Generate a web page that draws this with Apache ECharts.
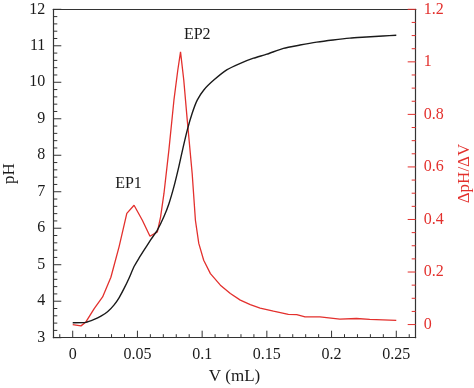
<!DOCTYPE html>
<html>
<head>
<meta charset="utf-8">
<script src="https://cdn.jsdelivr.net/npm/echarts@6/dist/echarts.min.js"></script>
<style>html,body{margin:0;padding:0;background:#fff}#c{width:474px;height:388px}</style>
</head>
<body>
<div id="c"></div>
<script>
// ---- data ----
const phV = [0, 0.0102, 0.0166, 0.0218, 0.0269, 0.032, 0.0359, 0.0397, 0.0435, 0.0474, 0.0512, 0.0551, 0.0602, 0.0654, 0.0705, 0.0744, 0.0782, 0.082, 0.0854, 0.0885, 0.0923, 0.0962, 0.1013, 0.109, 0.119, 0.1295, 0.1397, 0.15, 0.1628, 0.1756, 0.1885, 0.2012, 0.2141, 0.2269, 0.2397, 0.25];
const phVals = [3.41, 3.42, 3.50, 3.59, 3.71, 3.90, 4.10, 4.35, 4.63, 4.95, 5.18, 5.40, 5.68, 5.95, 6.32, 6.68, 7.14, 7.69, 8.23, 8.69, 9.15, 9.51, 9.79, 10.06, 10.34, 10.52, 10.66, 10.77, 10.93, 11.02, 11.10, 11.16, 11.21, 11.24, 11.27, 11.29];
const dV = [0, 0.0064, 0.0102, 0.0166, 0.0231, 0.0295, 0.0358, 0.0418, 0.0474, 0.0538, 0.0597, 0.0654, 0.0679, 0.0705, 0.0743, 0.0782, 0.0812, 0.0833, 0.0858, 0.0885, 0.0923, 0.0948, 0.0974, 0.1012, 0.1064, 0.1141, 0.1218, 0.1295, 0.1372, 0.1448, 0.1551, 0.1666, 0.1731, 0.1795, 0.191, 0.2064, 0.2192, 0.2295, 0.2397, 0.25];
const dVals = [0, -0.005, 0.01, 0.061, 0.105, 0.18, 0.296, 0.423, 0.454, 0.397, 0.336, 0.353, 0.41, 0.499, 0.664, 0.854, 0.969, 1.038, 0.931, 0.778, 0.575, 0.397, 0.309, 0.245, 0.194, 0.15, 0.118, 0.093, 0.076, 0.063, 0.051, 0.039, 0.038, 0.029, 0.029, 0.021, 0.023, 0.02, 0.018, 0.016];
const xTicks = [0, 0.05, 0.1, 0.15, 0.2, 0.25];
const leftTicks = [3, 4, 5, 6, 7, 8, 9, 10, 11, 12];
const rightTicks = [0, 0.2, 0.4, 0.6, 0.8, 1, 1.2];
const annotations = [
  { name: 'EP1', v: 0.0431, d: 0.537 },
  { name: 'EP2', v: 0.0962, d: 1.102 }
];

// ---- axis ranges ----
const X_MIN = -0.015, X_MAX = 0.265;
const L_MIN = 3, L_MAX = 12;
const R_MIN = -0.05, R_MAX = 1.2;

// ---- tick positions (major + minor) ----
const r3 = v => Math.round(v * 1000) / 1000;
const xTickData = [];
for (let i = -1; i <= 26; i++) { const v = r3(i * 0.01); xTickData.push([v, L_MIN, i % 5 === 0 ? 1 : 0]); }
const leftTickData = [];
for (let i = 0; i <= 45; i++) { const v = r3(L_MIN + i * 0.2); leftTickData.push([X_MIN, v, i % 5 === 0 ? 1 : 0]); }
const rightTickData = [];
for (let i = 0; i <= 24; i++) { const v = r3(i * 0.05); rightTickData.push([X_MAX, v, i % 4 === 0 ? 1 : 0]); }

// ---- chart ----
const FONT = 'Liberation Serif';
const BLACK = '#1a1a1a';
const AX = '#333333';
const RED = '#e3302d';

function tickSeries(name, yIdx, data, dir, major, minor, color) {
  return {
    name, type: 'custom', xAxisIndex: 0, yAxisIndex: yIdx, clip: false, silent: true, z: 5,
    data,
    renderItem: (params, api) => {
      const p = api.coord([api.value(0), api.value(1)]);
      const len = api.value(2) ? major : minor;
      const shape = dir === 'up'
        ? { x1: p[0], y1: p[1], x2: p[0], y2: p[1] - len }
        : { x1: p[0], y1: p[1], x2: p[0] + dir * len, y2: p[1] };
      return { type: 'line', shape, style: { stroke: color, lineWidth: 1 } };
    }
  };
}

const chart = echarts.init(document.getElementById('c'), null, { renderer: 'canvas' });
chart.setOption({
  animation: false,
  textStyle: { fontFamily: FONT },
  grid: {
    left: 53.3, right: 58.3, top: 9.3, bottom: 50.3, show: false,
    outerBounds: { left: -100, right: -100, top: -100, bottom: -100 }
  },
  xAxis: [
    {
      type: 'value', min: X_MIN, max: X_MAX, position: 'bottom',
      name: 'V (mL)', nameLocation: 'middle', nameGap: 28,
      nameTextStyle: { fontFamily: FONT, fontSize: 17, color: BLACK },
      axisLine: { show: true, onZero: false, lineStyle: { color: AX, width: 1.2 } },
      axisTick: { show: false },
      axisLabel: { show: true, customValues: xTicks, margin: 9, fontFamily: FONT, fontSize: 16, color: BLACK, formatter: v => String(v) },
      splitLine: { show: false }
    },
    {
      type: 'value', min: X_MIN, max: X_MAX, position: 'top', offset: 0,
      axisLine: { show: true, onZero: false, lineStyle: { color: AX, width: 1.2 } },
      axisTick: { show: false },
      axisLabel: { show: false },
      splitLine: { show: false }
    }
  ],
  yAxis: [
    {
      type: 'value', min: L_MIN, max: L_MAX, interval: 1, position: 'left',
      name: 'pH', nameLocation: 'middle', nameGap: 33, nameRotate: 90,
      nameTextStyle: { fontFamily: FONT, fontSize: 17, color: BLACK },
      axisLine: { show: true, onZero: false, lineStyle: { color: AX, width: 1.2 } },
      axisTick: { show: false },
      axisLabel: { customValues: leftTicks, margin: 8, fontFamily: FONT, fontSize: 16, color: BLACK },
      splitLine: { show: false }
    },
    {
      type: 'value', min: R_MIN, max: R_MAX, position: 'right', offset: 0,
      name: 'ΔpH/ΔV', nameLocation: 'middle', nameGap: 40, nameRotate: 90,
      nameTextStyle: { fontFamily: FONT, fontSize: 17, color: RED },
      axisLine: { show: true, onZero: false, lineStyle: { color: AX, width: 1.2 } },
      axisTick: { show: false },
      axisLabel: { show: true, customValues: rightTicks, margin: 8, fontFamily: FONT, fontSize: 16, color: RED, formatter: v => String(v) },
      splitLine: { show: false }
    }
  ],
  series: [
    {
      name: 'pH', type: 'line', xAxisIndex: 0, yAxisIndex: 0,
      data: phV.map((v, i) => [v, phVals[i]]),
      showSymbol: false, smooth: 0.2,
      lineStyle: { color: BLACK, width: 1.4 }, z: 3
    },
    {
      name: 'dpH', type: 'line', xAxisIndex: 0, yAxisIndex: 1,
      data: dV.map((v, i) => [v, dVals[i]]),
      showSymbol: false, smooth: false,
      lineStyle: { color: RED, width: 1.3 }, z: 2,
      markPoint: {
        symbol: 'circle', symbolSize: 0,
        label: { show: true, position: 'inside', fontFamily: FONT, fontSize: 16, color: BLACK, formatter: p => p.name },
        data: annotations.map(a => ({ name: a.name, coord: [a.v, a.d] }))
      }
    },
    tickSeries('xTicks', 0, xTickData, 'up', 7, 3.5, AX),
    tickSeries('leftTicks', 0, leftTickData, 1, 8, 4, AX),
    tickSeries('rightTicks', 1, rightTickData, -1, 8, 4, RED)
  ]
});
</script>
</body>
</html>
